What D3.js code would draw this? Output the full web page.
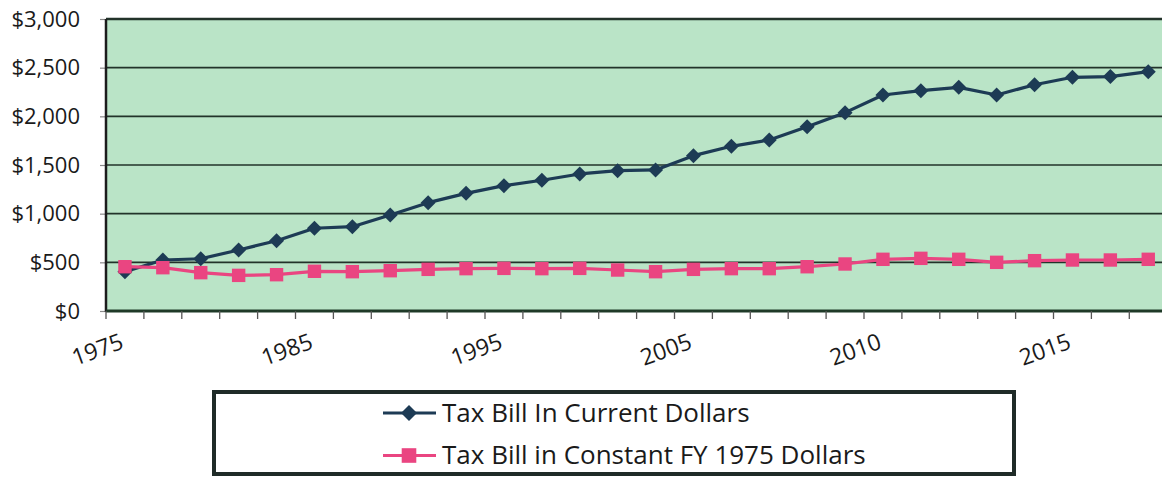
<!DOCTYPE html>
<html>
<head>
<meta charset="utf-8">
<script src="https://cdn.jsdelivr.net/npm/d3@7"></script>
<style>
  html, body { margin: 0; padding: 0; background: #ffffff; }
  svg { display: block; }
  text { font-family: "Open Sans", "Noto Sans", sans-serif; fill: #1a1a1a; }
</style>
</head>
<body>
<svg id="chart" width="1162" height="479"></svg>
<script>
// Fiscal years: every other year through 2005, then yearly
const years = [1975, 1977, 1979, 1981, 1983, 1985, 1987, 1989, 1991, 1993,
               1995, 1997, 1999, 2001, 2003, 2005, 2006, 2007, 2008, 2009,
               2010, 2011, 2012, 2013, 2014, 2015, 2016, 2017];

// Average tax bill in current dollars
const currentDollars = [404, 524, 537, 627, 722, 850, 866, 986, 1113, 1209,
                        1288, 1343, 1408, 1442, 1449, 1596, 1692, 1757, 1894, 2038,
                        2219, 2264, 2298, 2219, 2325, 2401, 2408, 2459];

// Same bill deflated to constant FY 1975 dollars
const constantDollars = [455, 445, 394, 366, 373, 408, 404, 414, 428, 435,
                         438, 435, 438, 421, 404, 428, 435, 435, 455, 483,
                         531, 541, 531, 500, 517, 524, 524, 531];

// Years that carry an axis label
const labeledYears = [1975, 1985, 1995, 2005, 2010, 2015];

// Value axis ticks
const yTicks = [0, 500, 1000, 1500, 2000, 2500, 3000];

const seriesNames = ["Tax Bill In Current Dollars", "Tax Bill in Constant FY 1975 Dollars"];

const svg = d3.select("#chart");
const plot = { left: 106, top: 19, bottom: 311, step: 37.9 };
plot.right = plot.left + plot.step * years.length;

const x = d3.scaleBand().domain(years).range([plot.left, plot.right]).padding(0);
const y = d3.scaleLinear().domain([0, 3000]).range([plot.bottom, plot.top]);
const cx = d => x(d) + x.bandwidth() / 2;

const navy = "#1d3b55";
const pink = "#ea4581";
const frame = "#22332a";

// plot background
svg.append("rect")
  .attr("x", plot.left).attr("y", plot.top)
  .attr("width", plot.right - plot.left).attr("height", plot.bottom - plot.top)
  .attr("fill", "#bae4c7");

// horizontal gridlines
svg.append("g").selectAll("line").data(yTicks.filter(v => v > 0))
  .join("line")
  .attr("x1", plot.left).attr("x2", plot.right)
  .attr("y1", d => y(d)).attr("y2", d => y(d))
  .attr("stroke", frame).attr("stroke-width", d => d === 3000 ? 2.5 : 1.6);

// y axis with small outward ticks
const yAxis = d3.axisLeft(y).tickValues(yTicks).tickSize(6).tickPadding(20)
  .tickFormat(d => "$" + d3.format(",")(d));
const gy = svg.append("g").attr("transform", `translate(${plot.left},0)`).call(yAxis);
gy.select(".domain").remove();
gy.selectAll(".tick line").attr("stroke", "#8a8a8a").attr("stroke-width", 1.2);
gy.selectAll(".tick text")
  .attr("font-size", 22).attr("fill", "#1a1a1a")
  .style("font-family", '"Open Sans", sans-serif');

// left axis line
svg.append("line")
  .attr("x1", plot.left).attr("x2", plot.left)
  .attr("y1", plot.top).attr("y2", plot.bottom + 1)
  .attr("stroke", "#1c1c1c").attr("stroke-width", 2.5);

// x axis: ticks on band boundaries, labels on selected years
const gx = svg.append("g");
gx.append("line")
  .attr("x1", plot.left).attr("x2", plot.right)
  .attr("y1", plot.bottom).attr("y2", plot.bottom)
  .attr("stroke", "#1f3a28").attr("stroke-width", 3);
gx.selectAll("line.tick").data(years)
  .join("line").attr("class", "tick")
  .attr("x1", d => x(d)).attr("x2", d => x(d))
  .attr("y1", plot.bottom).attr("y2", plot.bottom + 8)
  .attr("stroke", "#555").attr("stroke-width", 1.3);
gx.selectAll("text").data(labeledYears)
  .join("text")
  .attr("transform", d => `translate(${cx(d)},${plot.bottom + 37}) rotate(-20)`)
  .attr("text-anchor", "end")
  .attr("font-size", 23)
  .text(d => d);

// series
const series = [
  { name: seriesNames[0], values: currentDollars, color: navy, marker: "diamond" },
  { name: seriesNames[1], values: constantDollars, color: pink, marker: "square" }
];

const line = d3.line().x((d, i) => cx(years[i])).y(d => y(d));
const diamond = s => `M0,${-s}L${s},0L0,${s}L${-s},0Z`;

function drawMarker(g, type, color, size) {
  if (type === "diamond") {
    g.append("path").attr("d", diamond(size)).attr("fill", color);
  } else {
    g.append("rect").attr("x", -size).attr("y", -size)
      .attr("width", size * 2).attr("height", size * 2).attr("fill", color);
  }
}

series.forEach(s => {
  const g = svg.append("g");
  g.append("path").datum(s.values)
    .attr("d", line).attr("fill", "none")
    .attr("stroke", s.color).attr("stroke-width", 3.2).attr("stroke-linejoin", "round");
  g.selectAll("g.pt").data(s.values).join("g").attr("class", "pt")
    .attr("transform", (d, i) => `translate(${cx(years[i])},${y(d)})`)
    .each(function () { drawMarker(d3.select(this), s.marker, s.color, s.marker === "diamond" ? 7.5 : 6.7); });
});

// legend
const lg = svg.append("g");
lg.append("rect")
  .attr("x", 214).attr("y", 392).attr("width", 800).attr("height", 82)
  .attr("fill", "#ffffff").attr("stroke", "#1f2b28").attr("stroke-width", 4);
series.forEach((s, i) => {
  const yy = 413 + i * 42.5;
  const row = lg.append("g");
  row.append("line").attr("x1", 383).attr("x2", 436).attr("y1", yy).attr("y2", yy)
    .attr("stroke", s.color).attr("stroke-width", 3);
  const m = row.append("g").attr("transform", `translate(409,${yy})`);
  drawMarker(m, s.marker, s.color, s.marker === "diamond" ? 8 : 7.3);
  row.append("text").attr("x", 442).attr("y", yy + 8.5)
    .attr("font-size", 26).text(s.name);
});
</script>
</body>
</html>
